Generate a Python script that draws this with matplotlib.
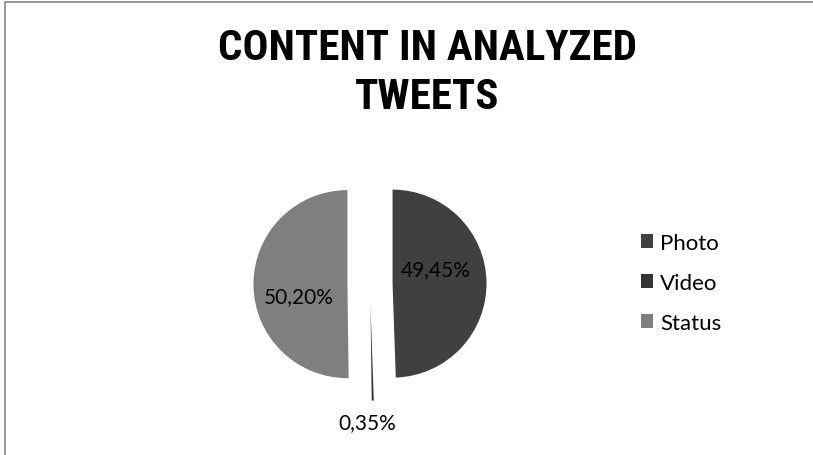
import matplotlib.pyplot as plt
from matplotlib.patches import Rectangle

categories = ['Photo', 'Video', 'Status']
shares = [49.45, 0.35, 50.20]
share_labels = ['49,45%', '0,35%', '50,20%']
colors = ['#404040', '#353535', '#7f7f7f']

plt.rcParams['font.family'] = ['Lato', 'DejaVu Sans']

W, H = 813, 456
fig = plt.figure(figsize=(W / 100, H / 100), dpi=100)

# chart frame (only top and left edges fall inside the image)
fig.patches.append(Rectangle((5 / W, -0.1), 1.2, 1 - 3 / H + 0.1, transform=fig.transFigure,
                             fill=False, edgecolor='#888888', linewidth=1.2))

fig.text(427 / W, 1 - 73 / H, 'CONTENT IN ANALYZED\nTWEETS', ha='center', va='center',
         fontsize=31, fontweight='bold', linespacing=1.27, fontstretch='condensed',
         family=['Roboto Condensed', 'DejaVu Sans'])

# axes sized so that radius 1 ~ 94 px, pie centre at (370, 285) px
ax = fig.add_axes([200 / W, 0, 340 / W, 296 / H])
ax.axis('off')

wedges, _ = ax.pie(shares, colors=colors, startangle=90, counterclock=False,
                   explode=[0.24, 0.24, 0.24], radius=1,
                   wedgeprops=dict(linewidth=0))
ax.set_xlim(-1.809, 1.809)
ax.set_ylim(-1.819, 1.33)
ax.set_aspect('auto')

label_pos = [(0.70, 0.16), (-0.03, -1.47), (-0.76, -0.13)]
for txt, (x, y) in zip(share_labels, label_pos):
    ax.text(x, y, txt, ha='center', va='center', fontsize=15, color='black')

fig.legend(wedges, categories, loc='center left', bbox_to_anchor=(621 / W, 1 - 284 / H),
           frameon=False, fontsize=16, handlelength=0.55, handleheight=0.55,
           handletextpad=0.3, labelspacing=0.9)

fig.savefig('out.png', dpi=100)
